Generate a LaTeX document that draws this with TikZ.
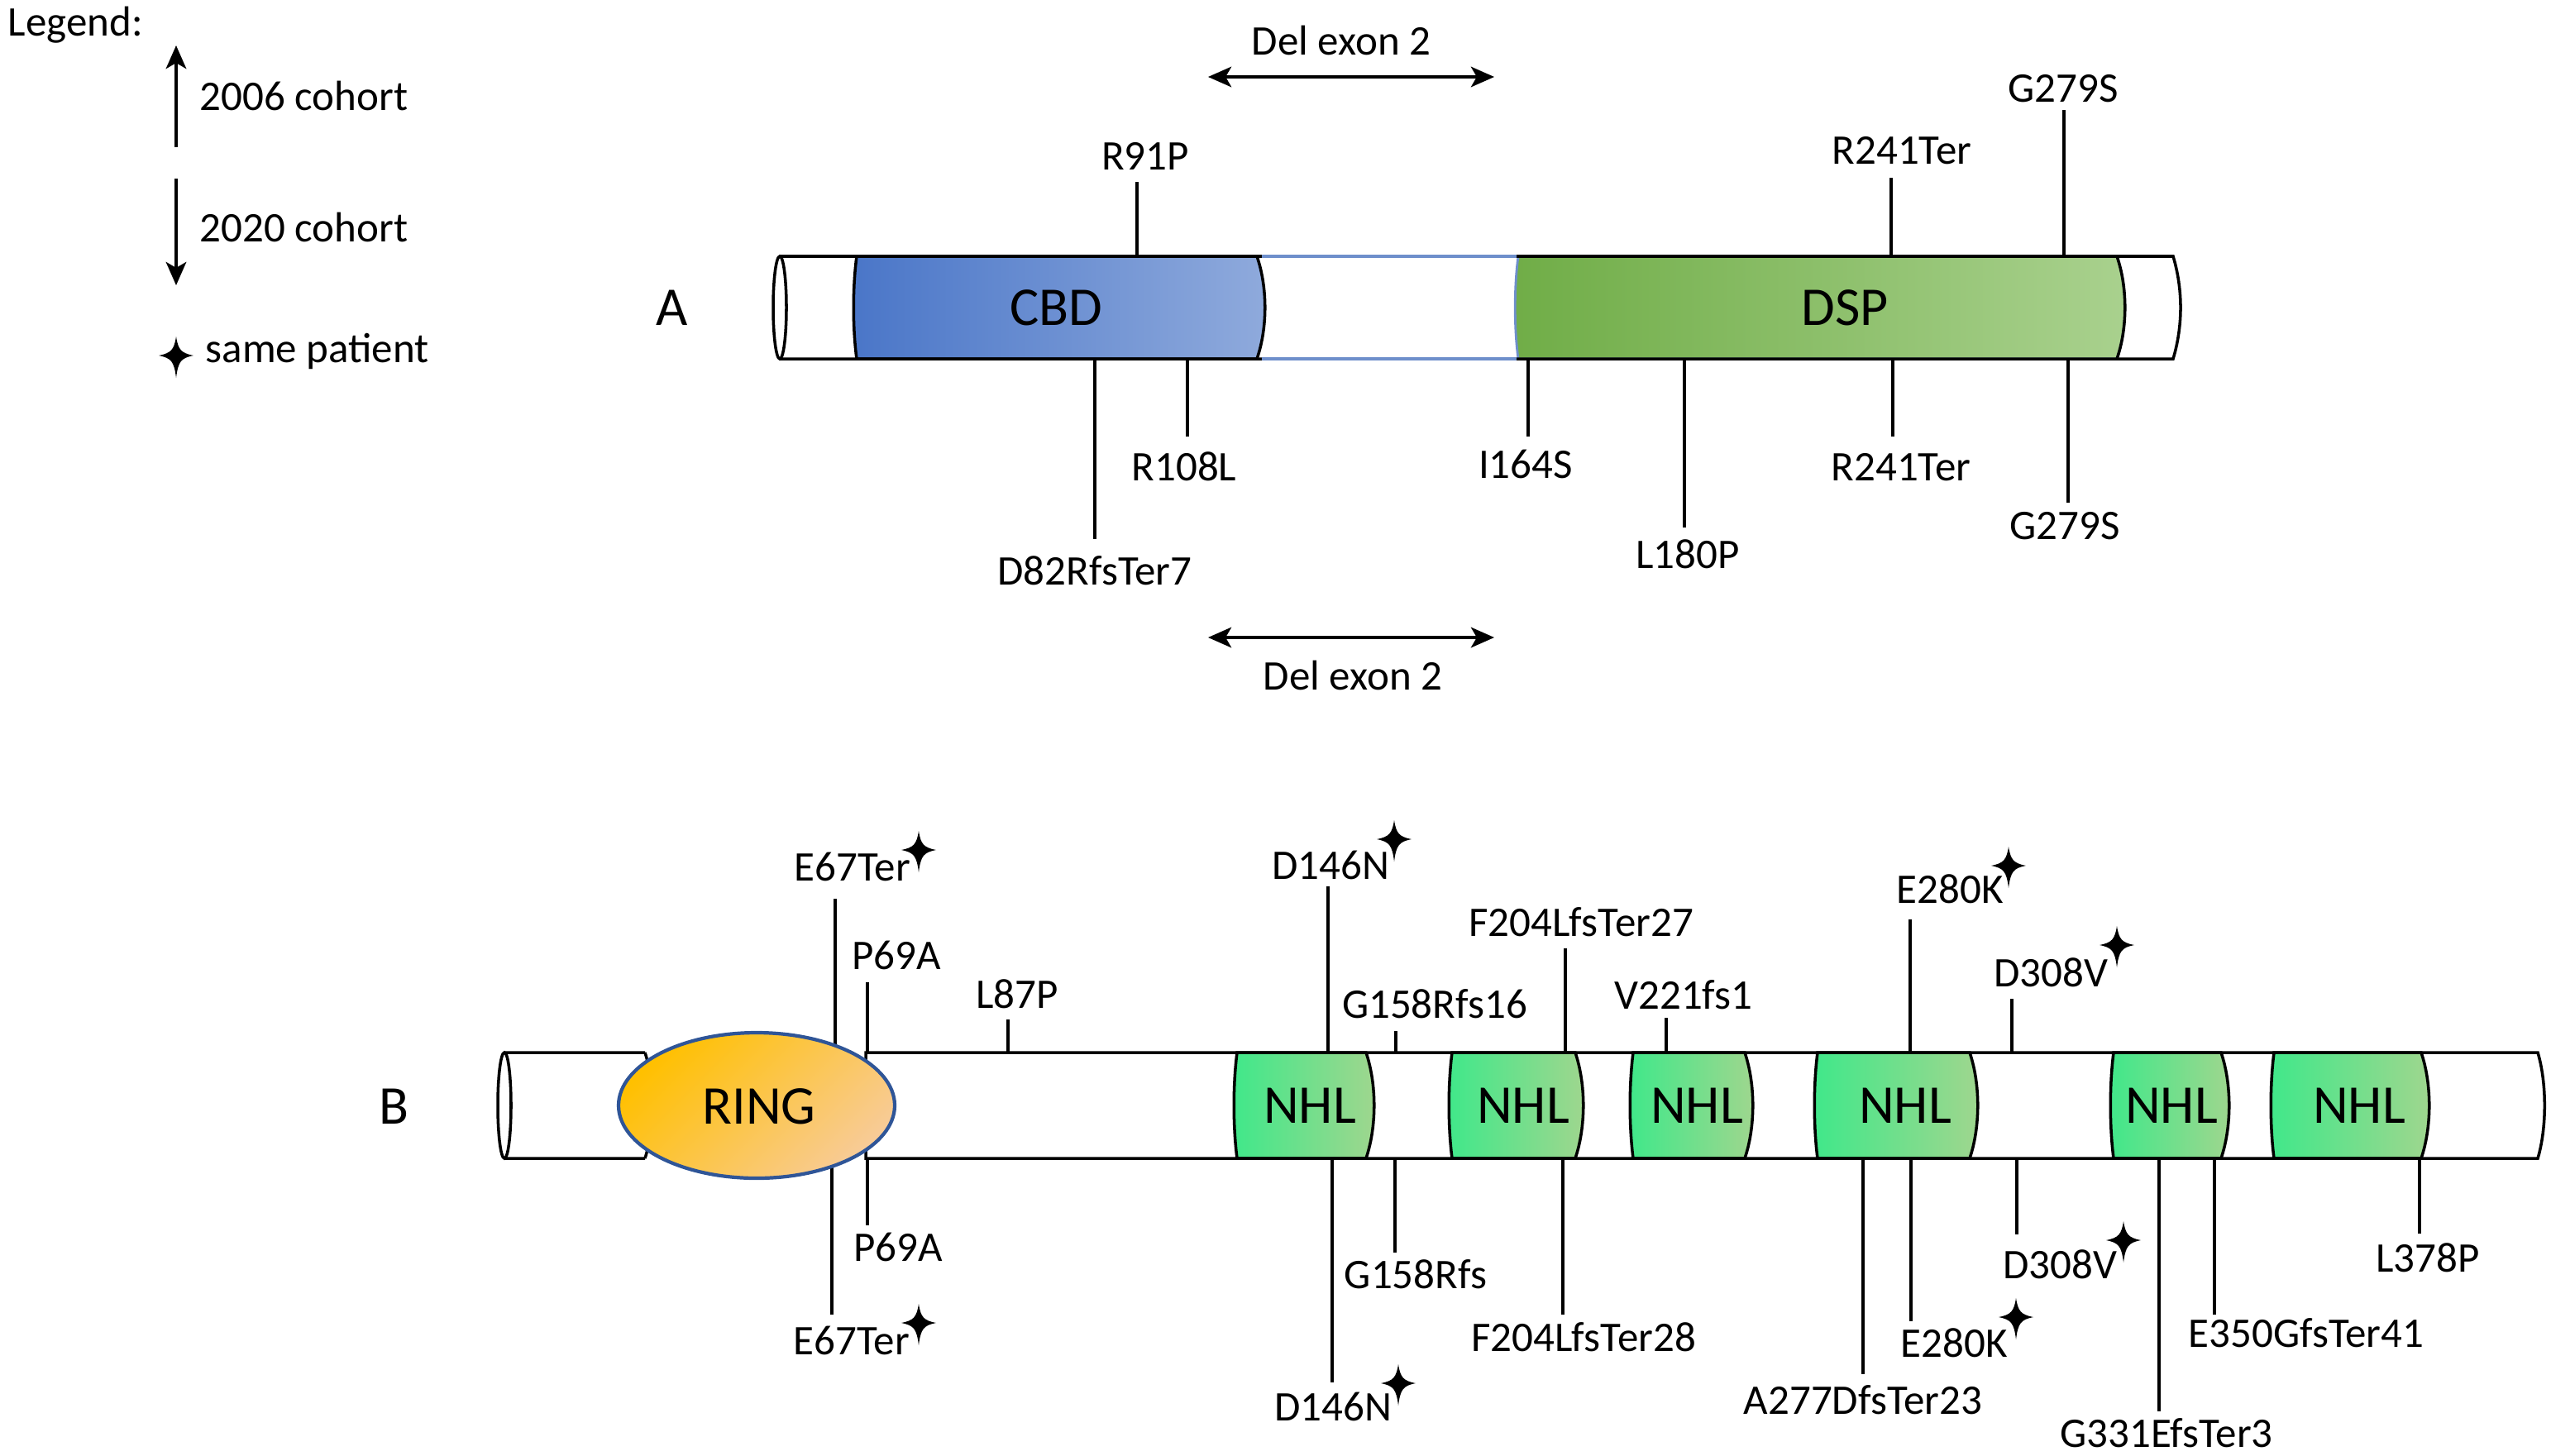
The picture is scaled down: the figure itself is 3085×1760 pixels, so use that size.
\documentclass[tikz,border=0pt]{standalone}
\usepackage{fontspec}
\setmainfont{Carlito}
\usetikzlibrary{arrows.meta}
\definecolor{cbdA}{HTML}{4A76C8}
\definecolor{cbdB}{HTML}{8FAADC}
\definecolor{dspA}{HTML}{70AD47}
\definecolor{dspB}{HTML}{A9D18E}
\definecolor{nhlA}{RGB}{64,232,138}
\definecolor{nhlB}{RGB}{160,214,142}
\definecolor{ringA}{HTML}{FFC000}
\definecolor{ringB}{RGB}{248,203,150}
\definecolor{ringEdge}{HTML}{2F5597}
\definecolor{midEdge}{HTML}{6E8FCB}
\newcommand{\lblfont}{\fontsize{14.5}{17}\selectfont}
\newcommand{\domfont}{\fontsize{18.8}{22}\selectfont}
% band: x1 x2 ytop ybot options
\newcommand{\band}[5]{\path[#5] (#1,#3) -- (#2,#3) .. controls ({#2+13},{#3+0.3*(#4-#3)}) and ({#2+13},{#4-0.3*(#4-#3)}) .. (#2,#4) -- (#1,#4) .. controls ({#1-5},{#4-0.3*(#4-#3)}) and ({#1-5},{#3+0.3*(#4-#3)}) .. (#1,#3) -- cycle;}
% mutation: name x ybar yend labelx labely text
\newcommand{\mut}[7]{\coordinate (#1s) at (#2,#3); \coordinate (#1e) at (#2,#4); \draw[mline] (#1s) -- (#1e); \node[mlab] (#1l) at (#5,#6) {#7};}
\tikzset{
  mline/.style={line width=0.9pt},
  barline/.style={line width=1pt},
  mlab/.style={font=\lblfont, inner sep=0pt, text height=9.3pt, text depth=0pt},
  domlab/.style={font=\domfont, inner sep=0pt, text height=12.1pt, text depth=0pt},
  leglab/.style={font=\lblfont, inner sep=0pt, anchor=base west},
  arr/.style={line width=1pt, -{Stealth[length=8pt,width=7pt,inset=2pt]}},
  darr/.style={line width=1pt, {Stealth[length=8pt,width=7pt,inset=2pt]}-{Stealth[length=8pt,width=7pt,inset=2pt]}},
  sparkle/.pic={\fill (0,-23) .. controls (2.5,-7) and (6,-3) .. (21,0) .. controls (6,3) and (2.5,7) .. (0,27) .. controls (-2.5,7) and (-6,3) .. (-21,0) .. controls (-6,-3) and (-2.5,-7) .. (0,-23) -- cycle;}
}
\begin{document}
\begin{tikzpicture}[x=0.01cm, y=-0.01cm]
\useasboundingbox (0,0) rectangle (3085,1760);
% ---------------- Legend
\node[leglab] (leg) at (9,43) {Legend:};
\coordinate (ua) at (213,178); \coordinate (ub) at (213,55);
\draw[arr] (ua) -- (ub);
\node[leglab] (c06) at (241,133) {2006 cohort};
\coordinate (da) at (213,216); \coordinate (db) at (213,345);
\draw[arr] (da) -- (db);
\node[leglab] (c20) at (241,292) {2020 cohort};
\pic at (213,430) {sparkle};
\node[leglab] (same) at (248,438) {same patient};
% ---------------- Panel A
\node[domlab] (labA) at (813,372) {A};
\band{1036}{1520}{310}{434}{draw, line width=1pt, left color=cbdA, right color=cbdB}
\band{1836}{2560}{310}{434}{draw=midEdge, line width=0.8pt, left color=dspA, right color=dspB}
\draw[barline] (2560,310) .. controls (2573,347) and (2573,397) .. (2560,434);
\draw[barline] (943,310) -- (2628,310) .. controls (2640,350) and (2640,394) .. (2628,434) -- (943,434);
\draw[barline] (943,372) ellipse [x radius=8, y radius=62];
\draw[line width=1.1pt, midEdge] (1526,310) -- (1834,310) (1526,434) -- (1834,434);
\node[domlab] (cbd) at (1277,372) {CBD};
\node[domlab] (dsp) at (2231,372) {DSP};
% top (2006)
\mut{aR91}{1375}{310}{220}{1385}{189}{R91P}
\mut{aR241}{2287}{310}{215}{2300}{182}{R241Ter}
\mut{aG279}{2496}{310}{133}{2495}{107}{G279S}
\coordinate (dxa) at (1461,93); \coordinate (dxb) at (1807,93);
\draw[darr] (dxa) -- (dxb);
\node[mlab] (delA) at (1622,50) {Del exon 2};
% bottom (2020)
\mut{bD82}{1324}{434}{652}{1324}{691}{D82RfsTer7}
\mut{bR108}{1436}{434}{528}{1432}{565}{R108L}
\mut{bI164}{1848}{434}{528}{1845}{562}{I164S}
\mut{bL180}{2037}{434}{638}{2041}{671}{L180P}
\mut{bR241}{2289}{434}{528}{2299}{565}{R241Ter}
\mut{bG279}{2501}{434}{608}{2497}{636}{G279S}
\coordinate (dya) at (1461,771); \coordinate (dyb) at (1807,771);
\draw[darr] (dya) -- (dyb);
\node[mlab] (delB) at (1636,818) {Del exon 2};
% ---------------- Panel B
\node[domlab] (labB) at (476,1338) {B};
\draw[barline] (780,1273) -- (610,1273) (610,1401) -- (780,1401) (780,1273) .. controls (792,1310) and (792,1364) .. (780,1401);
\draw[barline] (610,1337) ellipse [x radius=8, y radius=64];
\band{1496}{1652}{1273}{1401}{draw, line width=1pt, left color=nhlA, right color=nhlB}
\band{1756}{1905}{1273}{1401}{draw, line width=1pt, left color=nhlA, right color=nhlB}
\band{1975}{2110}{1273}{1401}{draw, line width=1pt, left color=nhlA, right color=nhlB}
\band{2198}{2382}{1273}{1401}{draw, line width=1pt, left color=nhlA, right color=nhlB}
\band{2556}{2686}{1273}{1401}{draw, line width=1pt, left color=nhlA, right color=nhlB}
\band{2750}{2928}{1273}{1401}{draw, line width=1pt, left color=nhlA, right color=nhlB}
\draw[barline] (1047,1273) -- (3069,1273) .. controls (3080,1310) and (3080,1364) .. (3069,1401) -- (1047,1401) -- cycle;
\node[domlab] (n1) at (1584,1337) {NHL};
\node[domlab] (n2) at (1842,1337) {NHL};
\node[domlab] (n3) at (2052,1337) {NHL};
\node[domlab] (n4) at (2304,1337) {NHL};
\node[domlab] (n5) at (2626,1337) {NHL};
\node[domlab] (n6) at (2853,1337) {NHL};
% top (2006)
\mut{tE67}{1010}{1273}{1087}{1031}{1049}{E67Ter}
\mut{tP69}{1049}{1273}{1188}{1084}{1156}{P69A}
\mut{tL87}{1219}{1273}{1233}{1230}{1203}{L87P}
\mut{tD146}{1606}{1273}{1072}{1609}{1047}{D146N}
\mut{tG158}{1688}{1273}{1247}{1735}{1215}{G158Rfs16}
\mut{tF204}{1893}{1273}{1147}{1912}{1116}{F204LfsTer27}
\mut{tV221}{2015}{1273}{1231}{2036}{1204}{V221fs1}
\mut{tE280}{2310}{1273}{1112}{2358}{1076}{E280K}
\mut{tD308}{2433}{1273}{1208}{2480}{1177}{D308V}
% bottom (2020)
\mut{uE67}{1006}{1401}{1590}{1030}{1622}{E67Ter}
\mut{uP69}{1049}{1401}{1482}{1086}{1509}{P69A}
\mut{uD146}{1611}{1401}{1672}{1612}{1702}{D146N}
\mut{uG158}{1687}{1401}{1515}{1712}{1542}{G158Rfs}
\mut{uF204}{1890}{1401}{1590}{1915}{1618}{F204LfsTer28}
\mut{uA277}{2253}{1401}{1662}{2253}{1694}{A277DfsTer23}
\mut{uE280}{2311}{1401}{1598}{2363}{1625}{E280K}
\mut{uD308}{2439}{1401}{1493}{2491}{1530}{D308V}
\mut{uG331}{2611}{1401}{1707}{2620}{1734}{G331EfsTer3}
\mut{uE350}{2678}{1401}{1590}{2789}{1613}{E350GfsTer41}
\mut{uL378}{2926}{1401}{1492}{2936}{1522}{L378P}
% RING domain (over the bar and the E67Ter lines)
\path[draw=ringEdge, line width=1.2pt, top color=ringA, bottom color=ringB, shading angle=45] (915,1337) ellipse [x radius=167, y radius=88];
\node[domlab] (ring) at (918,1338) {RING};
% same-patient marks
\pic at (1111,1028) {sparkle};
\pic at (1686,1015) {sparkle};
\pic at (2429,1047) {sparkle};
\pic at (2560,1143) {sparkle};
\pic at (1111,1600) {sparkle};
\pic at (1691,1673) {sparkle};
\pic at (2438,1593) {sparkle};
\pic at (2568,1500) {sparkle};
\end{tikzpicture}
\end{document}
